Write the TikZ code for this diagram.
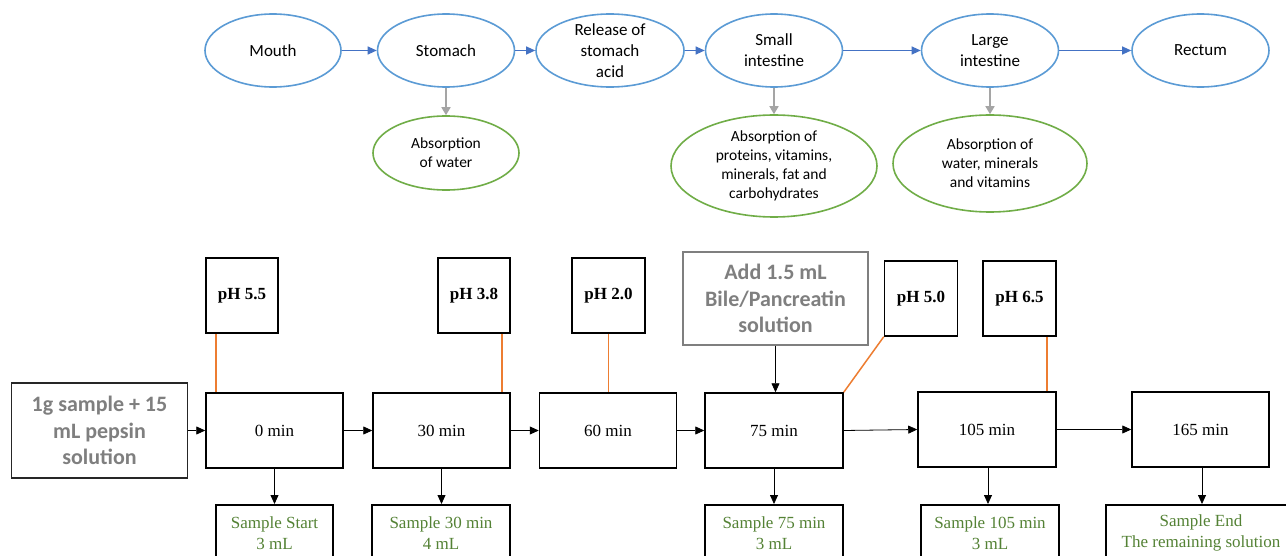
\documentclass[tikz,border=0pt]{standalone}
\usepackage{fontspec}
\setmainfont{Liberation Serif}
\newfontfamily\calibri{Carlito}
\usetikzlibrary{shapes.geometric,arrows.meta}
\definecolor{ellblue}{HTML}{5B9BD5}
\definecolor{arrblue}{HTML}{4472C4}
\definecolor{ellgreen}{HTML}{70AD47}
\definecolor{arrgray}{HTML}{A5A5A5}
\definecolor{orng}{HTML}{ED7D31}
\definecolor{txtgray}{HTML}{7F7F7F}
\definecolor{txtgreen}{HTML}{548235}
\tikzset{
  ellb/.style={ellipse, draw=ellblue, line width=1.6pt, inner sep=0pt, minimum width=137pt, minimum height=73pt},
  ellg/.style={ellipse, draw=ellgreen, line width=1.6pt, inner sep=0pt},
  eltext/.style={font=\calibri\fontsize{17pt}{21pt}\selectfont, align=center, inner sep=0pt},
  gltext/.style={font=\calibri\fontsize{15.5pt}{19pt}\selectfont, align=center, inner sep=0pt},
  barr/.style={draw=arrblue, line width=1.1pt, -{Triangle[length=9pt,width=8pt]}},
  garr/.style={draw=arrgray, line width=1.6pt, -{Triangle[length=8pt,width=9pt]}},
  karr/.style={draw=black, line width=0.8pt, -{Triangle[length=9pt,width=8pt]}},
  oline/.style={draw=orng, line width=1.5pt},
  tbox/.style={draw, line width=1.5pt, minimum width=137pt, minimum height=75pt, inner sep=0pt, font=\fontsize{17pt}{20pt}\selectfont},
  phbox/.style={draw, line width=1.5pt, minimum width=72pt, minimum height=75pt, inner sep=0pt, font=\bfseries\fontsize{17pt}{20pt}\selectfont},
  graybox/.style={draw, line width=1.4pt, inner sep=0pt, align=center, text=txtgray, font=\calibri\bfseries\fontsize{22pt}{26.5pt}\selectfont},
  sbox/.style={draw, line width=1.5pt, minimum height=56pt, inner sep=0pt, anchor=north, align=center, text=txtgreen, font=\fontsize{17pt}{21pt}\selectfont}
}
\begin{document}
\begin{tikzpicture}[x=1pt,y=-1pt]
\clip (0,0) rectangle (1286,556);
\fill[white] (0,0) rectangle (1286,556);
% top ellipses
\node[ellb, minimum width=136pt] (mouth) at (273,50.5) {};
\node[eltext] (mouth-t) at (mouth) {Mouth};
\node[ellb] (stom) at (446,50.5) {};
\node[eltext] (stom-t) at (stom) {Stomach};
\node[ellb, minimum width=148pt] (rel) at (610,50.5) {};
\node[eltext] (rel-t) at (rel) {Release of\\stomach\\acid};
\node[ellb] (small) at (774,50.5) {};
\node[eltext] (small-t) at (small) {Small\\intestine};
\node[ellb] (large) at (990,50.5) {};
\node[eltext] (large-t) at (large) {Large\\intestine};
\node[ellb] (rect) at (1200.5,50.5) {};
\node[eltext] (rect-t) at (rect) {Rectum};
\draw[barr] (mouth) -- (stom);
\draw[barr] (stom) -- (rel);
\draw[barr] (rel) -- (small);
\draw[barr] (small) -- (large);
\draw[barr] (large) -- (rect);
% green ellipses
\node[ellg, minimum width=146pt, minimum height=74pt] (ab1) at (446,153) {};
\node[gltext] (ab1-t) at (ab1) {Absorption\\of water};
\node[ellg, minimum width=206pt, minimum height=102pt] (ab2) at (774,166) {};
\node[gltext] (ab2-t) at (ab2) {Absorption of\\proteins, vitamins,\\minerals, fat and\\carbohydrates};
\node[ellg, minimum width=194pt, minimum height=97pt] (ab3) at (990,163.5) {};
\node[gltext] (ab3-t) at (ab3) {Absorption of\\water, minerals\\and vitamins};
\draw[garr] (stom) -- (ab1);
\draw[garr] (small) -- (ab2);
\draw[garr] (large) -- (ab3);
% time boxes
\node[graybox, draw=black!85, minimum width=176pt, minimum height=95pt] (start) at (99.5,430.5) {1g sample + 15\\mL pepsin\\solution};
\node[tbox] (t0) at (274.5,430.5) {0 min};
\node[tbox] (t30) at (441.5,430.5) {30 min};
\node[tbox] (t60) at (608,430.5) {60 min};
\node[tbox, minimum width=138pt] (t75) at (774,430.5) {75 min};
\node[tbox, minimum width=138pt] (t105) at (987,429.5) {105 min};
\node[tbox] (t165) at (1200.5,429.5) {165 min};
\draw[karr] (start) -- (t0);
\draw[karr] (t0) -- (t30);
\draw[karr] (t30) -- (t60);
\draw[karr] (t60) -- (t75);
\draw[karr] (t75.east) -- (t105.west);
\draw[karr] (t105) -- (t165);
% pH boxes
\node[phbox] (ph55) at (242,295.5) {pH 5.5};
\node[phbox] (ph38) at (474,295.5) {pH 3.8};
\node[phbox, minimum width=73pt] (ph20) at (608.5,295.5) {pH 2.0};
\node[phbox, minimum width=73pt] (ph50) at (921,298.5) {pH 5.0};
\node[phbox, minimum width=73pt] (ph65) at (1019.5,298.5) {pH 6.5};
\node[graybox, draw=txtgray, minimum width=185pt, minimum height=93pt] (bile) at (775.5,298.5) {Add 1.5 mL\\Bile/Pancreatin\\solution};
\coordinate (o55) at ([xshift=10.5pt]ph55.south west);
\coordinate (o38) at ([xshift=-9pt]ph38.south east);
\coordinate (o65) at ([xshift=-10pt]ph65.south east);
\draw[oline] (o55) -- (o55 |- t0.north);
\draw[oline] (o38) -- (o38 |- t30.north);
\draw[oline] (ph20.south) -- (ph20.south |- t60.north);
\draw[oline] (ph50.south west) -- (t75.north east);
\draw[oline] (o65) -- (o65 |- t105.north);
\draw[karr] (bile.south) -- (bile.south |- t75.north);
% sample boxes
\node[sbox, minimum width=117pt] (s0) at (274.5,504) {Sample Start\\3 mL};
\node[sbox, minimum width=138pt] (s30) at (441,504) {Sample 30 min\\4 mL};
\node[sbox, minimum width=138pt] (s75) at (774,504) {Sample 75 min\\3 mL};
\node[sbox, minimum width=138pt] (s105) at (990,504) {Sample 105 min\\3 mL};
\node[sbox, minimum width=190pt] (send) at (1201,504) {Sample End\\The remaining solution};
\draw[karr] (t0.south) -- (t0.south |- s0.north);
\draw[karr] (t30.south) -- (t30.south |- s30.north);
\draw[karr] (t75.south) -- (t75.south |- s75.north);
\draw[karr] ([xshift=1pt]t105.south) -- ([xshift=1pt]t105.south |- s105.north);
\draw[karr] ([xshift=1.5pt]t165.south) -- ([xshift=1.5pt]t165.south |- send.north);
\end{tikzpicture}
\end{document}
